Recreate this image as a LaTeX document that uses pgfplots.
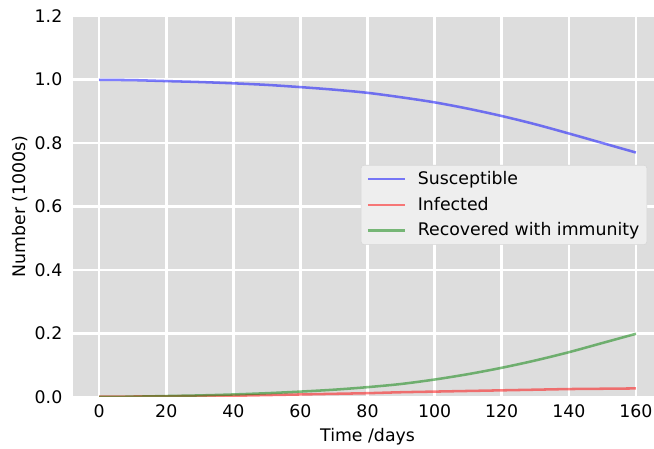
\documentclass[border=0pt]{standalone}
\usepackage{fontspec}
\setmainfont{DejaVu Sans}
\usepackage{pgfplots}
\usepackage{pgfplotstable}
\pgfplotsset{compat=1.18}
\definecolor{panel}{HTML}{DDDDDD}
\definecolor{legfill}{HTML}{EEEEEE}
\definecolor{legedge}{HTML}{D6D6D6}

% S, I, R (in 1000s) every 10 days
\pgfplotstableread{
t   S      I       R
0   0.999  0.001   0.000
10  0.998  0.0015  0.001
20  0.995  0.002   0.003
30  0.992  0.003   0.005
40  0.988  0.004   0.008
50  0.983  0.006   0.012
60  0.976  0.008   0.017
70  0.968  0.010   0.023
80  0.958  0.012   0.031
90  0.944  0.015   0.041
100 0.928  0.017   0.055
110 0.908  0.019   0.072
120 0.885  0.021   0.092
130 0.859  0.023   0.115
140 0.830  0.025   0.141
150 0.800  0.026   0.170
160 0.770  0.027   0.199
}\sir

\begin{document}
\fontsize{13}{15.6}\selectfont
\begin{tikzpicture}
\begin{axis}[
  name=ax,
  width=435.75pt, height=285.75pt, scale only axis,
  xmin=-7.8, xmax=165.4, ymin=0, ymax=1.2,
  xtick={0,20,40,60,80,100,120,140,160},
  ytick={0,0.2,0.4,0.6,0.8,1.0,1.2},
  /pgf/number format/assume math mode=true,
  yticklabel style={xshift=-3.5pt, /pgf/number format/.cd, fixed, fixed zerofill, precision=1},
  xticklabel style={yshift=-1.5pt},
  axis background/.style={fill=panel},
  grid=major, grid style={white, line width=1.9pt},
  axis line style={draw=none},
  major tick length=0pt,
  xlabel={Time /days},
  ylabel={Number (1000s)},
  xlabel style={at={(axis description cs:0.507,-0.105)}, anchor=center},
  ylabel style={at={(axis description cs:-0.0918,0.5)}, anchor=center},
  legend style={at={(0.988,0.609)}, anchor=north east, fill=legfill, draw=legedge,
    rounded corners=2pt, nodes={inner sep=1.5pt}, row sep=4.5pt, inner xsep=4pt, inner ysep=3pt},
  legend cell align=left,
  legend image code/.code={\draw[#1] (0pt,0pt) -- (28pt,0pt); \path[draw=none, fill=none] (0pt,0pt) -- (36pt,0pt);},
]
\addplot[blue, opacity=0.5, line width=1.9pt, smooth] table[x=t, y=S] {\sir};
\addlegendentry{Susceptible}
\addplot[red, opacity=0.5, line width=1.9pt, smooth] table[x=t, y=I] {\sir};
\addlegendentry{Infected}
\addplot[green!50!black, opacity=0.5, line width=1.9pt, smooth] table[x=t, y=R] {\sir};
\addlegendentry{Recovered with immunity}
\end{axis}
\pgfresetboundingbox
\path[use as bounding box] ([shift={(-54.75pt,-39pt)}]ax.south west) rectangle ([shift={(435.75pt,297.75pt)}]ax.south west);
\end{tikzpicture}
\end{document}
